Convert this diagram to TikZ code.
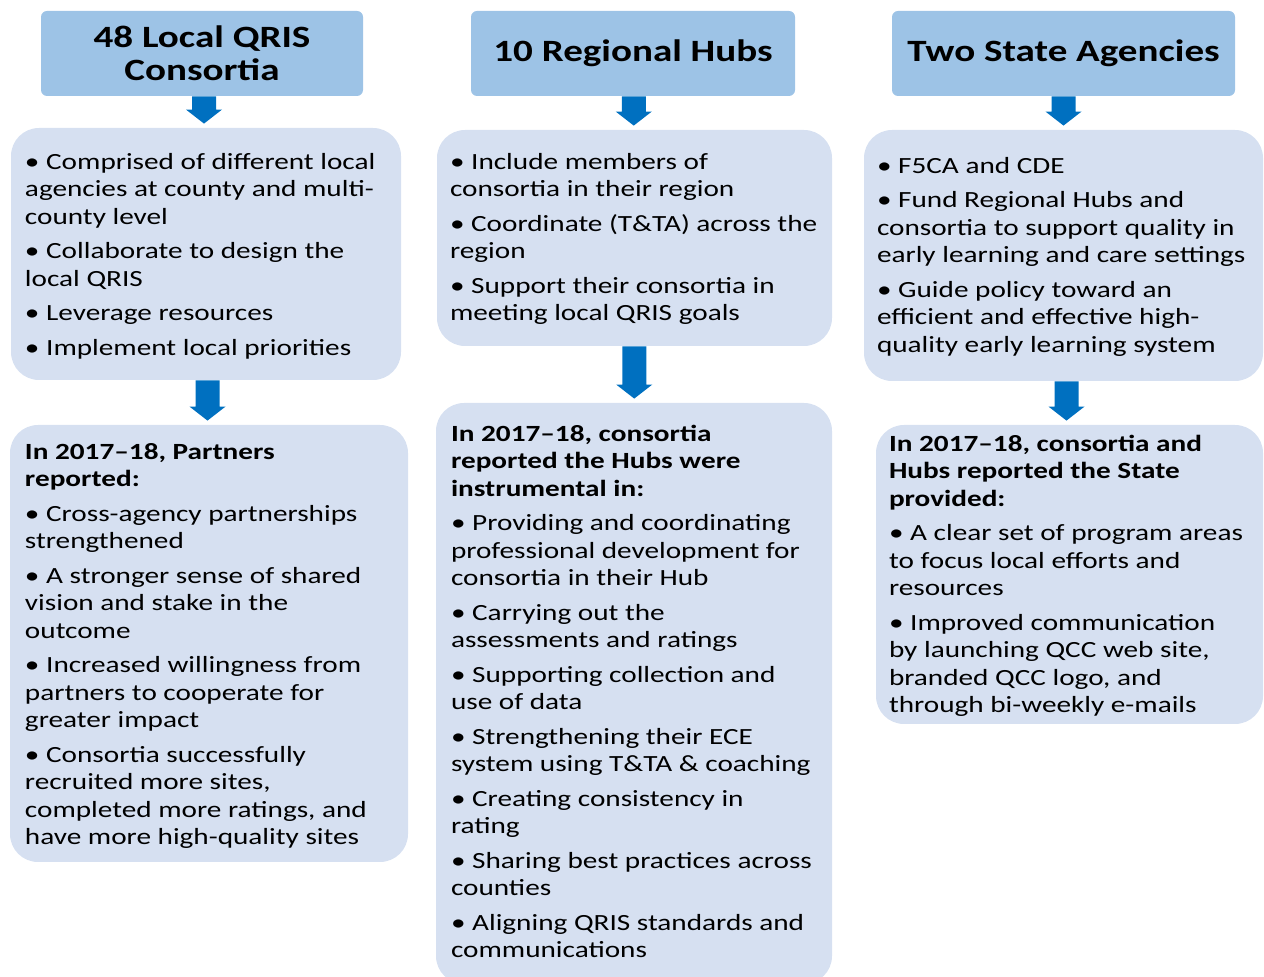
\documentclass[tikz,border=0pt]{standalone}
\usepackage{fontspec}
\setmainfont{Carlito}[FakeStretch=1.26]
\usetikzlibrary{fit,calc}

\definecolor{headblue}{RGB}{157,195,230}
\definecolor{paleblue}{RGB}{214,224,241}
\definecolor{arrowblue}{RGB}{0,112,192}

\tikzset{
  headbox/.style={fill=headblue, rounded corners=3pt, inner sep=0pt},
  headtext/.style={inner sep=0pt, align=center,
    font=\fontsize{15.5}{16.5}\selectfont\bfseries},
  groupbox/.style={fill=paleblue, rounded corners=14pt, inner sep=0pt},
  itemtext/.style={anchor=north west, inner sep=0pt, align=left,
    font=\fontsize{11.6}{13.75}\selectfont}
}

% block arrow from the bottom of one box to the top of the next
\newcommand\hubarrow[2]{%
  \fill[arrowblue] let \p1=($(#1.south)!0.5!(#2.north)$), \p2=(#1.south), \p3=(#2.north) in
    (\x1-6pt,\y2) -- (\x1+6pt,\y2) -- (\x1+6pt,\y3+9pt) -- (\x1+9pt,\y3+9pt)
    -- (\x1,\y3+2pt) -- (\x1-9pt,\y3+9pt) -- (\x1-6pt,\y3+9pt) -- cycle;}

\begin{document}
\begin{tikzpicture}[x=0.5pt,y=-0.5pt]
  \useasboundingbox (0,0) rectangle (1264,977);

  % headers
  \node[headbox, fit={(41,11) (363,96)}] (h1) {};
  \node[headbox, fit={(471,11) (795,96)}] (h2) {};
  \node[headbox, fit={(892,11) (1235,96)}] (h3) {};
  \node[headtext] (h1t) at (h1.center) {48 Local QRIS\\Consortia};
  \node[headtext] (h2t) at (h2.center) {10 Regional Hubs};
  \node[headtext] (h3t) at (h3.center) {Two State Agencies};

  % roles
  \node[groupbox, fit={(11,128) (401,380)}] (a1) {};
  \node[groupbox, fit={(437,130) (832,346)}] (b1) {};
  \node[groupbox, fit={(864,130) (1263,381)}] (c1) {};

  % results
  \node[groupbox, fit={(10,425) (408,862)}] (a2) {};
  \node[groupbox, fit={(436,403) (832,984)}] (b2) {};
  \node[groupbox, fit={(876,425) (1263,724)}] (c2) {};

  \hubarrow{h1}{a1}
  \hubarrow{h2}{b1}
  \hubarrow{h3}{c1}
  \hubarrow{a1}{a2}
  \hubarrow{b1}{b2}
  \hubarrow{c1}{c2}

  \node[itemtext] (a1t) at ($(a1.north west)+(14,25)$) {%
    • Comprised of different local\\
    agencies at county and multi-\\
    county level\\[3.5pt]
    • Collaborate to design the\\
    local QRIS\\[3.5pt]
    • Leverage resources\\[3.5pt]
    • Implement local priorities};

  \node[itemtext] (b1t) at ($(b1.north west)+(13,23)$) {%
    • Include members of\\
    consortia in their region\\[3.5pt]
    • Coordinate (T\&TA) across the\\
    region\\[3.5pt]
    • Support their consortia in\\
    meeting local QRIS goals};

  \node[itemtext] (c1t) at ($(c1.north west)+(13,27)$) {%
    • F5CA and CDE\\[3.5pt]
    • Fund Regional Hubs and\\
    consortia to support quality in\\
    early learning and care settings\\[3.5pt]
    • Guide policy toward an\\
    efficient and effective high-\\
    quality early learning system};

  \node[itemtext] (a2t) at ($(a2.north west)+(15,18)$) {%
    \textbf{In 2017–18, Partners}\\
    \textbf{reported:}\\[3.5pt]
    • Cross-agency partnerships\\
    strengthened\\[3.5pt]
    • A stronger sense of shared\\
    vision and stake in the\\
    outcome\\[3.5pt]
    • Increased willingness from\\
    partners to cooperate for\\
    greater impact\\[3.5pt]
    • Consortia successfully\\
    recruited more sites,\\
    completed more ratings, and\\
    have more high-quality sites};

  \node[itemtext] (b2t) at ($(b2.north west)+(15,22)$) {%
    \textbf{In 2017–18, consortia}\\
    \textbf{reported the Hubs were}\\
    \textbf{instrumental in:}\\[3.5pt]
    • Providing and coordinating\\
    professional development for\\
    consortia in their Hub\\[3.5pt]
    • Carrying out the\\
    assessments and ratings\\[3.5pt]
    • Supporting collection and\\
    use of data\\[3.5pt]
    • Strengthening their ECE\\
    system using T\&TA \& coaching\\[3.5pt]
    • Creating consistency in\\
    rating\\[3.5pt]
    • Sharing best practices across\\
    counties\\[3.5pt]
    • Aligning QRIS standards and\\
    communications};

  \node[itemtext] (c2t) at ($(c2.north west)+(13,10)$) {%
    \textbf{In 2017–18, consortia and}\\
    \textbf{Hubs reported the State}\\
    \textbf{provided:}\\[3.5pt]
    • A clear set of program areas\\
    to focus local efforts and\\
    resources\\[3.5pt]
    • Improved communication\\
    by launching QCC web site,\\
    branded QCC logo, and\\
    through bi-weekly e-mails};
\end{tikzpicture}
\end{document}
